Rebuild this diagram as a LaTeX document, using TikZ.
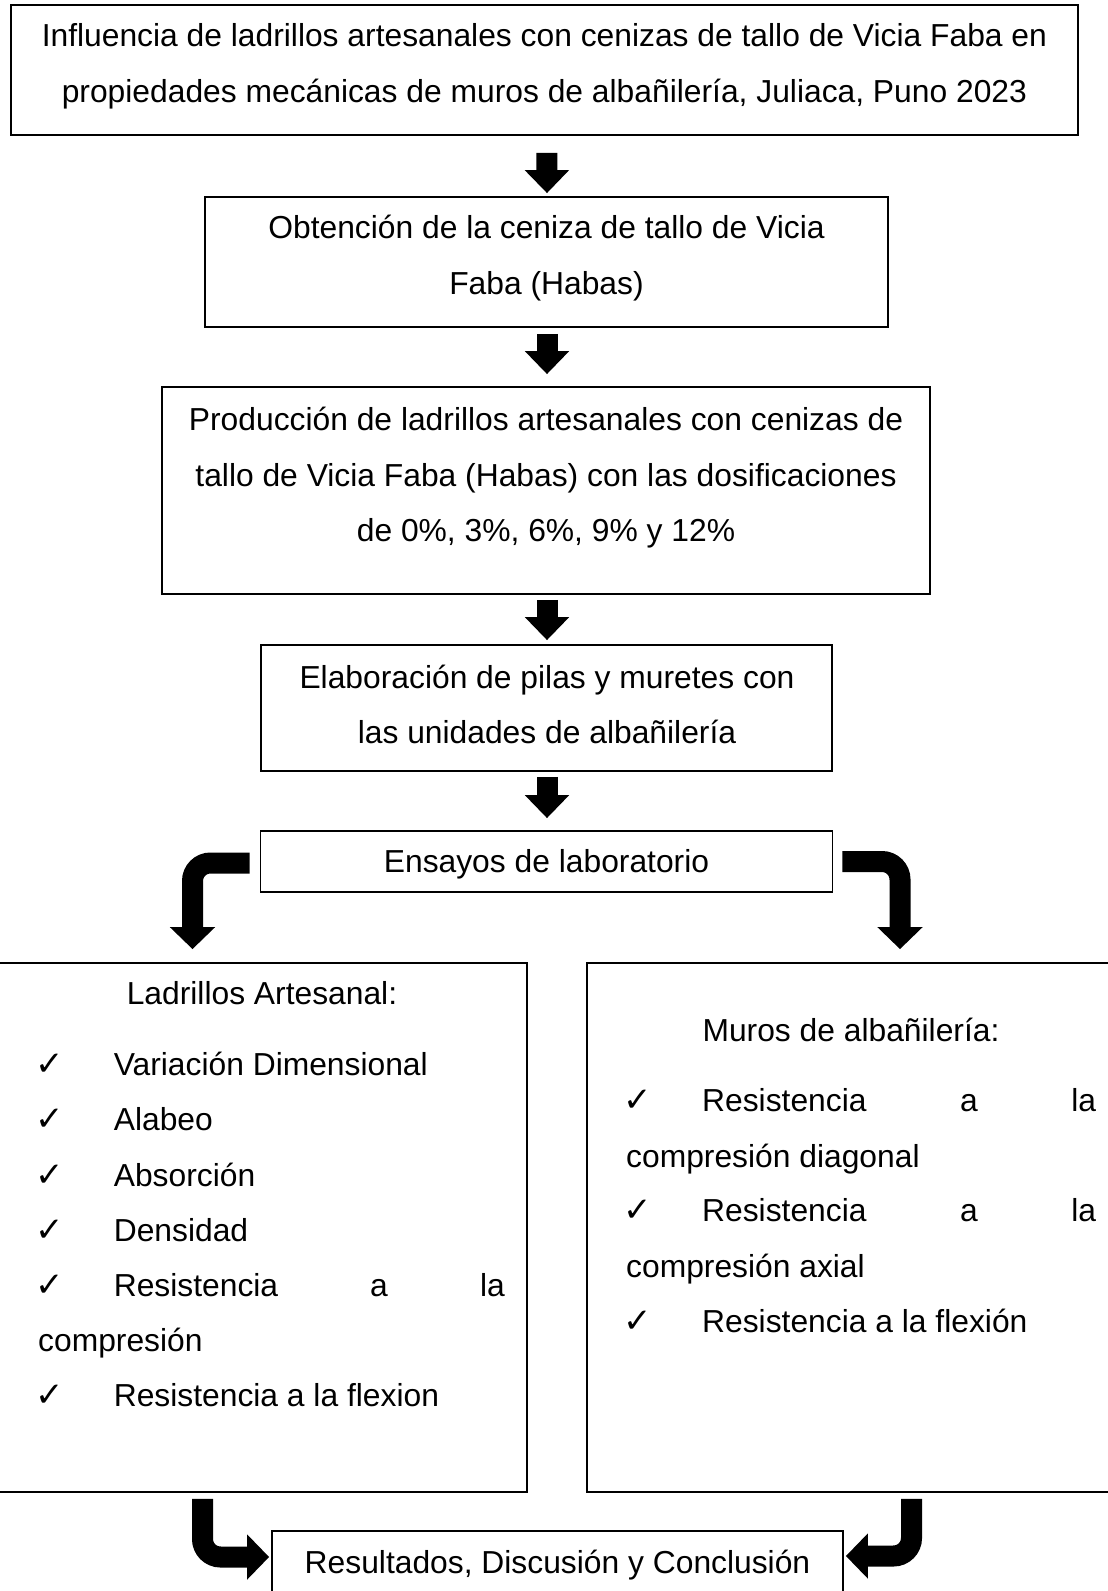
\documentclass[tikz,border=0pt]{standalone}
\usepackage{fontspec}
\setmainfont{Liberation Sans}
\newfontfamily\djv{DejaVu Sans}
\usetikzlibrary{arrows.meta,calc}
\begin{document}
\begin{tikzpicture}[x=1pt,y=-1pt,
 box/.style={draw, line width=1.8pt, inner sep=0pt},
 txt/.style={font=\fontsize{31.8}{38}\selectfont, inner sep=0pt, anchor=base},
 ltxt/.style={txt, anchor=base west},
 chk/.style={font=\djv\fontsize{34}{38}\selectfont, inner sep=0pt, anchor=base west},
 blockarrow/.style={line width=21pt, -{Triangle[width=43pt,length=23pt]}},
 bendarrow/.style={line width=21pt, rounded corners=18pt, -{Triangle[width=44pt,length=22pt]}}]
\newcommand{\ckm}{✓}
\useasboundingbox (0,0) rectangle (1108,1591);
\clip (0,0) rectangle (1108,1591);
% boxes
\node[box, minimum width=1067pt, minimum height=130pt] (b1) at (544.4,69.9) {};
\node[box, minimum width=683pt, minimum height=130pt] (b2) at (546.5,262) {};
\node[box, minimum width=768pt, minimum height=207pt] (b3) at (546,490.5) {};
\node[box, minimum width=571pt, minimum height=126pt] (b4) at (546.5,708) {};
\node[box, minimum width=572pt, minimum height=61pt] (b5) at (546.5,861.5) {};
\node[box, minimum width=547pt, minimum height=529pt] (lb) at (253.5,1227.5) {};
\node[box, minimum width=543pt, minimum height=529pt] (rb) at (858.5,1227.5) {};
\node[box, minimum width=571pt, minimum height=89pt] (b6) at (557.5,1575.5) {};
% texts
\node[txt] (t1a) at (544.4,46.5) {Influencia de ladrillos artesanales con cenizas de tallo de Vicia Faba en};
\node[txt] (t1b) at (544.4,102.5) {propiedades mecánicas de muros de albañilería, Juliaca, Puno 2023};
\node[txt] (t2a) at (546.5,238) {Obtención de la ceniza de tallo de Vicia};
\node[txt] (t2b) at (546.5,294) {Faba (Habas)};
\node[txt] (t3a) at (546,430) {Producción de ladrillos artesanales con cenizas de};
\node[txt] (t3b) at (546,486) {tallo de Vicia Faba (Habas) con las dosificaciones};
\node[txt] (t3c) at (546,541) {de 0\%, 3\%, 6\%, 9\% y 12\%};
\node[txt] (t4a) at (547,688) {Elaboración de pilas y muretes con};
\node[txt] (t4b) at (547,743) {las unidades de albañilería};
\node[txt] (t5) at (546.5,872) {Ensayos de laboratorio};
% left list
\node[txt] (lt) at (262,1004) {Ladrillos Artesanal:};
\node[chk] (lc1) at (35,1075) {\ckm};
\node[ltxt] (l1) at (113.6,1075) {Variación Dimensional};
\node[chk] (lc2) at (35,1130) {\ckm};
\node[ltxt] (l2) at (113.6,1130) {Alabeo};
\node[chk] (lc3) at (35,1186) {\ckm};
\node[ltxt] (l3) at (113.6,1186) {Absorción};
\node[chk] (lc4) at (35,1241) {\ckm};
\node[ltxt] (l4) at (113.6,1241) {Densidad};
\node[chk] (lc5) at (35,1296) {\ckm};
\node[ltxt] (l5) at (113.6,1296) {\hbox to 391pt{Resistencia\hfill a\hfill la}};
\node[ltxt] (l5b) at (38,1351) {compresión};
\node[chk] (lc6) at (35,1406) {\ckm};
\node[ltxt] (l6) at (113.6,1406) {Resistencia a la flexion};
% right list
\node[txt] (rt) at (851,1041) {Muros de albañilería:};
\node[chk] (rc1) at (623,1111) {\ckm};
\node[ltxt] (r1) at (702,1111) {\hbox to 394pt{Resistencia\hfill a\hfill la}};
\node[ltxt] (r1b) at (626,1167) {compresión diagonal};
\node[chk] (rc2) at (623,1221.5) {\ckm};
\node[ltxt] (r2) at (702,1221.5) {\hbox to 394pt{Resistencia\hfill a\hfill la}};
\node[ltxt] (r2b) at (626,1277) {compresión axial};
\node[chk] (rc3) at (623,1332) {\ckm};
\node[ltxt] (r3) at (702,1332) {Resistencia a la flexión};
\node[txt] (t6) at (557.5,1573) {Resultados, Discusión y Conclusión};
% straight arrows
\draw[blockarrow] ($(b1.south)+(2.5,17)$) -- ($(b2.north)+(0.5,-3)$);
\draw[blockarrow] ($(b2.south)+(0.5,6)$) -- ($(b3.north)+(1,-12)$);
\draw[blockarrow] ($(b3.south)+(1,5)$) -- ($(b4.north)+(0.5,-4)$);
\draw[blockarrow] ($(b4.south)+(0.5,5)$) -- ($(b5.north)+(0.5,-12)$);
% bent arrows
\coordinate (ltip) at ($(lb.north)+(-61,-13)$);
\coordinate (rtip) at ($(rb.north)+(41.5,-13)$);
\coordinate (bltip) at ($(b6.west)+(-2,-18.5)$);
\coordinate (brtip) at ($(b6.east)+(2,-19.5)$);
\draw[bendarrow] ($(b5.west)+(-10,1.5)$) -| (ltip);
\draw[bendarrow] ($(b5.east)+(9,0)$) -| (rtip);
\draw[bendarrow] ($(lb.south)+(-51,6)$) |- (bltip);
\draw[bendarrow] ($(rb.south)+(53,6)$) |- (brtip);
\end{tikzpicture}
\end{document}
